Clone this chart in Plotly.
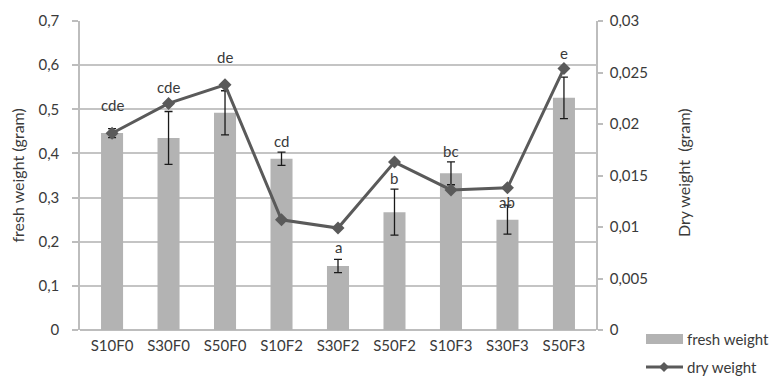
import plotly.graph_objects as go

categories = ["S10F0", "S30F0", "S50F0", "S10F2", "S30F2", "S50F2", "S10F3", "S30F3", "S50F3"]
fresh_weight = [0.446, 0.435, 0.492, 0.388, 0.145, 0.267, 0.355, 0.250, 0.526]
fresh_err = [0.010, 0.060, 0.050, 0.015, 0.015, 0.052, 0.026, 0.033, 0.047]
dry_weight = [0.0191, 0.0220, 0.0238, 0.0107, 0.0099, 0.0163, 0.0136, 0.0138, 0.0254]
letters = ["cde", "cde", "de", "cd", "a", "b", "bc", "ab", "e"]
letter_y = [0.509, 0.550, 0.618, 0.428, 0.188, 0.344, 0.405, 0.290, 0.627]

left_ticks = [0, 0.1, 0.2, 0.3, 0.4, 0.5, 0.6, 0.7]
right_ticks = [0, 0.005, 0.01, 0.015, 0.02, 0.025, 0.03]

TXT = "#3a3a3a"
FONT = "Lato"
BAR_C = "#b3b3b3"
LINE_C = "#5a5a5a"

fig = go.Figure()
fig.add_trace(go.Bar(
    x=categories, y=fresh_weight, name="fresh weight",
    marker=dict(color=BAR_C, line=dict(width=0)),
    width=0.39,
    error_y=dict(type="data", array=fresh_err, visible=True, color="#1a1a1a", thickness=1.3, width=4),
    showlegend=False,
))
fig.add_trace(go.Scatter(
    x=categories, y=dry_weight, name="dry weight", yaxis="y2",
    mode="lines+markers",
    line=dict(color=LINE_C, width=3),
    marker=dict(symbol="diamond", size=10, color=LINE_C),
    showlegend=False,
))

for c, t, yv in zip(categories, letters, letter_y):
    fig.add_annotation(x=c, y=yv, text=t, showarrow=False, yref="y", xref="x",
                       font=dict(family=FONT, size=15, color=TXT), yanchor="middle")

# axis titles
fig.add_annotation(xref="paper", yref="paper", x=-0.122, y=0.5, text="fresh weight (gram)",
                   textangle=-90, showarrow=False, xanchor="center", yanchor="middle",
                   font=dict(family=FONT, size=16, color=TXT))
fig.add_annotation(xref="paper", yref="paper", x=1.1686, y=0.511, text="Dry weight  (gram)",
                   textangle=-90, showarrow=False, xanchor="center", yanchor="middle",
                   font=dict(family=FONT, size=16, color=TXT))

# legend (drawn manually to mimic the rectangular swatch)
lx0, lx1, ltx = 1.0969, 1.1686, 1.1725
y_fresh, y_dry = -0.0291, -0.1197
fig.add_shape(type="rect", xref="paper", yref="paper", x0=lx0, x1=lx1,
              y0=y_fresh - 0.0162, y1=y_fresh + 0.0162, fillcolor=BAR_C, line=dict(width=0))
fig.add_annotation(xref="paper", yref="paper", x=ltx, y=y_fresh, text="fresh weight",
                   showarrow=False, xanchor="left", yanchor="middle",
                   font=dict(family=FONT, size=15, color=TXT))
fig.add_shape(type="line", xref="paper", yref="paper", x0=lx0, x1=lx1, y0=y_dry, y1=y_dry,
              line=dict(color=LINE_C, width=3))
dcx, ddx, ddy = 1.1318, 0.0097, 0.0162
fig.add_shape(type="path", xref="paper", yref="paper",
              path=f"M {dcx - ddx} {y_dry} L {dcx} {y_dry + ddy} L {dcx + ddx} {y_dry} L {dcx} {y_dry - ddy} Z",
              fillcolor=LINE_C, line=dict(width=0))
fig.add_annotation(xref="paper", yref="paper", x=ltx, y=y_dry, text="dry weight",
                   showarrow=False, xanchor="left", yanchor="middle",
                   font=dict(family=FONT, size=15, color=TXT))

fig.update_layout(
    width=772, height=369,
    margin=dict(l=72, r=184, t=13, b=47, autoexpand=False),
    paper_bgcolor="white", plot_bgcolor="white",
    separators=", ",
    font=dict(family=FONT, size=14, color=TXT),
    showlegend=False,
    xaxis=dict(
        type="category", showgrid=False, showline=False, ticks="",
        tickfont=dict(family=FONT, size=15, color=TXT),
        ticklabelstandoff=5,
    ),
    yaxis=dict(
        range=[0, 0.7], tickvals=left_ticks, showgrid=True,
        gridcolor="#c4c4c4", gridwidth=1.5,
        showline=True, linecolor="#bdbdbd", linewidth=1.5,
        ticks="outside", ticklen=6, tickcolor="#bdbdbd", tickwidth=1.5,
        tickfont=dict(family=FONT, size=15, color=TXT),
        ticklabelstandoff=10,
        zeroline=True, zerolinecolor="#bdbdbd", zerolinewidth=1.5,
    ),
    yaxis2=dict(
        range=[0, 0.03], tickvals=right_ticks, overlaying="y", side="right",
        showgrid=False, zeroline=False,
        showline=True, linecolor="#bdbdbd", linewidth=1.5,
        ticks="outside", ticklen=5, tickcolor="#bdbdbd", tickwidth=1.5,
        tickfont=dict(family=FONT, size=15, color=TXT),
        ticklabelstandoff=4,
    ),
)

fig.write_html("out.html")
